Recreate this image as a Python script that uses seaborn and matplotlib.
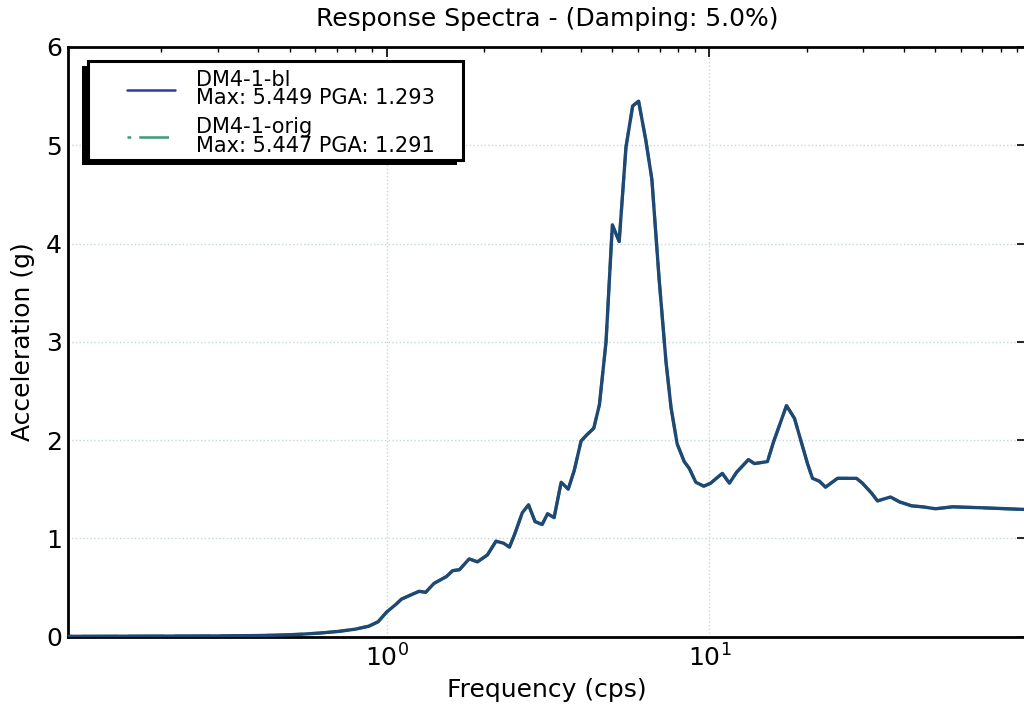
import numpy as np
import pandas as pd
import matplotlib
matplotlib.use("Agg")
import matplotlib.pyplot as plt
import seaborn as sns
from matplotlib.patches import Rectangle

# ---- data ----
freq = [0.1025, 0.12, 0.15, 0.2, 0.25, 0.3, 0.35, 0.4, 0.45, 0.5, 0.55, 0.62, 0.71,
        0.80, 0.88, 0.94, 1.00, 1.07, 1.11, 1.20, 1.26, 1.32, 1.40, 1.53, 1.60, 1.68,
        1.80, 1.91, 2.05, 2.18, 2.30, 2.40, 2.49, 2.63, 2.75, 2.88, 3.03, 3.15, 3.30,
        3.47, 3.65, 3.81, 4.00, 4.16, 4.38, 4.56, 4.78, 5.00, 5.25, 5.51, 5.78, 6.03,
        6.35, 6.63, 6.98, 7.33, 7.60, 7.94, 8.35, 8.66, 9.07, 9.60, 10.08, 10.5, 10.96,
        11.53, 12.12, 13.2, 13.78, 15.12, 15.79, 17.32, 18.34, 20.12, 20.85, 21.92,
        22.88, 24.93, 28.54, 29.79, 31.77, 33.16, 36.38, 38.8, 42.27, 45.73, 50.15,
        56.62, 70.15, 95.3]
acc_bl = [0.002, 0.002, 0.003, 0.004, 0.005, 0.006, 0.008, 0.010, 0.013, 0.018, 0.024,
          0.035, 0.052, 0.075, 0.105, 0.15, 0.25, 0.33, 0.38, 0.43, 0.46, 0.45, 0.54,
          0.61, 0.67, 0.68, 0.79, 0.76, 0.83, 0.97, 0.95, 0.91, 1.04, 1.26, 1.34, 1.17,
          1.14, 1.25, 1.21, 1.57, 1.50, 1.69, 1.99, 2.05, 2.12, 2.36, 3.00, 4.19, 4.02,
          4.98, 5.40, 5.449, 5.05, 4.65, 3.64, 2.80, 2.33, 1.96, 1.78, 1.71, 1.57, 1.53,
          1.56, 1.61, 1.66, 1.56, 1.67, 1.80, 1.76, 1.78, 1.98, 2.35, 2.22, 1.76, 1.61,
          1.58, 1.52, 1.61, 1.61, 1.56, 1.46, 1.38, 1.42, 1.37, 1.33, 1.32, 1.30, 1.32,
          1.31, 1.293]
acc_orig = [0.002, 0.002, 0.003, 0.004, 0.005, 0.006, 0.008, 0.010, 0.013, 0.018, 0.024,
            0.035, 0.052, 0.075, 0.105, 0.15, 0.25, 0.33, 0.38, 0.43, 0.46, 0.45, 0.54,
            0.61, 0.67, 0.68, 0.79, 0.76, 0.83, 0.97, 0.95, 0.91, 1.04, 1.26, 1.34, 1.17,
            1.14, 1.25, 1.21, 1.57, 1.50, 1.69, 1.99, 2.05, 2.12, 2.36, 3.00, 4.19, 4.02,
            4.98, 5.40, 5.447, 5.05, 4.65, 3.64, 2.80, 2.33, 1.96, 1.78, 1.71, 1.57, 1.53,
            1.56, 1.61, 1.66, 1.56, 1.67, 1.80, 1.76, 1.78, 1.98, 2.35, 2.22, 1.76, 1.61,
            1.58, 1.52, 1.61, 1.61, 1.56, 1.46, 1.38, 1.42, 1.37, 1.33, 1.32, 1.30, 1.32,
            1.31, 1.291]
series_labels = ["DM4-1-bl\nMax: 5.449 PGA: 1.293", "DM4-1-orig\nMax: 5.447 PGA: 1.291"]
y_ticks = [0, 1, 2, 3, 4, 5, 6]
title = "Response Spectra - (Damping: 5.0%)"
x_label = "Frequency (cps)"
y_label = "Acceleration (g)"

sns.set_style("white")
plt.rcParams['font.family'] = ['DejaVu Sans']
plt.rcParams['mathtext.default'] = 'regular'
plt.rcParams['text.color'] = 'black'
plt.rcParams['axes.labelcolor'] = 'black'
plt.rcParams['xtick.color'] = 'black'
plt.rcParams['ytick.color'] = 'black'

W, H = 1024, 706
fig = plt.figure(figsize=(W / 100, H / 100), dpi=100)
ax = fig.add_axes([67.5 / W, (H - 636.5) / H, (1026.5 - 67.5) / W, (636.5 - 47) / H])
ax.set_xscale('log')

sns.lineplot(x=freq, y=acc_bl, ax=ax, color='#1f4874', lw=2.4, label=series_labels[0],
             zorder=3, estimator=None, sort=False)
sns.lineplot(x=freq, y=acc_orig, ax=ax, color='#3d9a78', lw=2.2,
             linestyle=(10.4, (11.9, 3.2)), label=series_labels[1], zorder=2,
             estimator=None, sort=False)

ax.set_xlim(0.1025, 96)
ax.set_ylim(0, 6)
ax.set_yticks(y_ticks)

for s in ax.spines.values():
    s.set_visible(True)
    s.set_color('black')
    s.set_linewidth(2.0)

ax.tick_params(which='both', direction='in', top=True, right=True, colors='black',
               labelcolor='black', labelsize=18)
ax.tick_params(which='major', length=7.2, width=1.2)
ax.tick_params(which='minor', length=3.4, width=1.0)
ax.tick_params(axis='x', which='major', pad=6)
ax.tick_params(axis='y', which='major', pad=4)

ax.grid(True, which='major', linestyle=':', color='#c3d7df', linewidth=1.0)
ax.set_axisbelow(True)

ax.set_title(title, fontsize=18, pad=15, color='black')
ax.set_xlabel(x_label, fontsize=18, labelpad=4, color='black')
ax.set_ylabel(y_label, fontsize=18, labelpad=8, color='black')

# legend content (handles + labels); frame and shadow drawn around it below
ax_w_px = 1026.5 - 67.5
ax_h_px = 636.5 - 47
leg = ax.legend(loc='upper left',
                bbox_to_anchor=((127 - 67.5) / ax_w_px, 1 - (70 - 47) / ax_h_px),
                borderaxespad=0, fontsize=15, frameon=False, handlelength=2.3,
                handletextpad=1.0, borderpad=0, labelspacing=0.42)
for t in leg.get_texts():
    t.set_linespacing(0.9)
    t.set_color('black')
lines = leg.get_lines()
lines[0].set_color('#2c3e9a')
lines[0].set_linewidth(1.8)
lines[1].set_linewidth(1.8)

fig.canvas.draw()
bb = leg.get_window_extent()
inv = ax.transAxes.inverted()
padL, padR, padT, padB = 39.5, 28, 9, 4
fx0, fy0 = bb.x0 - padL, bb.y0 - padB
fx1, fy1 = bb.x1 + padR, bb.y1 + padT
# shadow
(sx0, sy0) = inv.transform((fx0 - 5.5, fy0 - 5))
(sx1, sy1) = inv.transform((fx1 - 5.5, fy1 - 5))
ax.add_artist(Rectangle((sx0, sy0), sx1 - sx0, sy1 - sy0, transform=ax.transAxes,
                        facecolor='black', edgecolor='none', zorder=4.8, clip_on=False))
# frame
(ax0, ay0) = inv.transform((fx0, fy0))
(ax1, ay1) = inv.transform((fx1, fy1))
ax.add_artist(Rectangle((ax0, ay0), ax1 - ax0, ay1 - ay0, transform=ax.transAxes,
                        facecolor='white', edgecolor='black', linewidth=2.2,
                        zorder=4.9, clip_on=False))

fig.savefig("out.png", dpi=100)
